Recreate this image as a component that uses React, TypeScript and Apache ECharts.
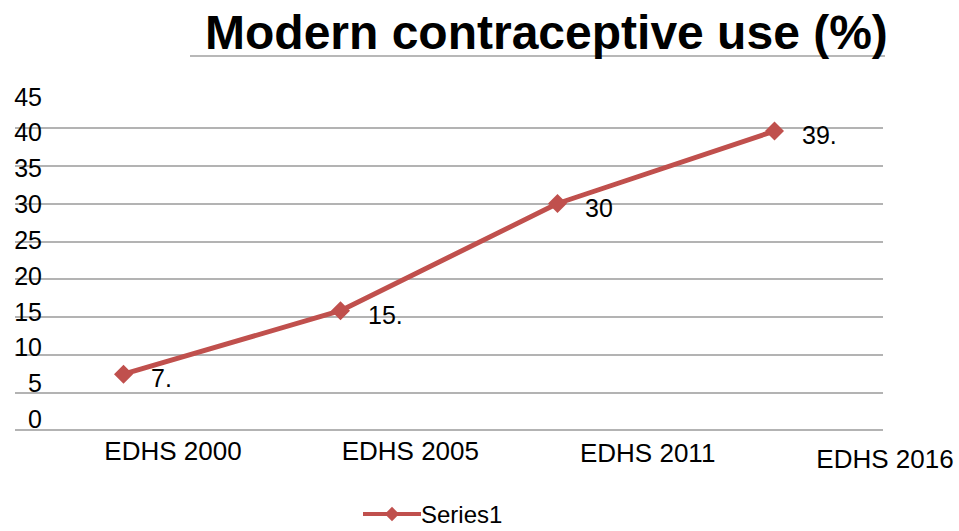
import React, { useEffect, useRef } from "react";
import * as echarts from "echarts";

const categories = ["EDHS 2000", "EDHS 2005", "EDHS 2011", "EDHS 2016"];
const values = [7.4, 15.8, 30, 39.6];
const pointLabels = ["7.", "15.", "30", "39."];
const yTicks = [0, 5, 10, 15, 20, 25, 30, 35, 40, 45];
const categoryLabelShift = [0, 0, 2, 8];
const seriesName = "Series1";
const titleText = "Modern contraceptive use (%)";

const FONT = "'Liberation Sans', Arial, sans-serif";
const RED = "#C0504D";

export default function App() {
  const ref = useRef<HTMLDivElement>(null);
  useEffect(() => {
    if (!ref.current) return;
    const chart = echarts.init(ref.current, undefined, { renderer: "svg" });
    chart.setOption({
      animation: false,
      backgroundColor: "#ffffff",
      textStyle: { fontFamily: FONT },
      title: {
        text: titleText,
        left: 200,
        top: 3,
        textStyle: { fontSize: 48, fontWeight: "bold", color: "#000", fontFamily: FONT },
      },
      graphic: [
        {
          type: "line",
          shape: { x1: 190, y1: 56, x2: 885, y2: 56 },
          style: { stroke: "#a0a0a0", lineWidth: 1.5 },
        },
      ],
      legend: {
        data: [seriesName],
        left: 361,
        top: 502,
        padding: 0,
        itemWidth: 58,
        itemHeight: 18,
        itemGap: 0,
        lineStyle: { width: 4 },
        textStyle: { fontSize: 24, color: "#000", fontFamily: FONT, padding: [0, 0, 0, -5] },
      },
      grid: [
        { left: 15, right: 76, top: 128, bottom: 101 },
        { left: 173, right: 74, top: 96.5, bottom: 112 },
      ],
      xAxis: [
        {
          type: "category",
          gridIndex: 0,
          data: categories,
          boundaryGap: true,
          axisLine: { show: false },
          axisTick: { show: false },
          axisLabel: { show: false },
          splitLine: { show: false },
        },
        {
          type: "category",
          gridIndex: 1,
          data: categories.map((c, i) => ({
            value: c,
            textStyle: { padding: [categoryLabelShift[i], 0, 0, 0] },
          })),
          boundaryGap: false,
          axisLine: { show: false },
          axisTick: { show: false },
          splitLine: { show: false },
          axisLabel: {
            interval: 0,
            margin: 19,
            verticalAlign: "top",
            fontSize: 26,
            color: "#000",
            fontFamily: FONT,
          },
        },
      ],
      yAxis: [
        {
          type: "value",
          gridIndex: 0,
          min: 0,
          max: 40,
          interval: 5,
          axisLine: { show: false },
          axisTick: { show: false },
          axisLabel: { show: false },
          splitLine: { show: true, lineStyle: { color: "#9a9a9a", width: 1.5 } },
        },
        {
          type: "value",
          gridIndex: 1,
          min: yTicks[0],
          max: yTicks[yTicks.length - 1],
          interval: yTicks[1] - yTicks[0],
          offset: 131,
          axisLine: { show: false },
          axisTick: { show: false },
          splitLine: { show: false },
          axisLabel: { margin: 0, fontSize: 25, color: "#000", fontFamily: FONT },
        },
      ],
      series: [
        {
          name: seriesName,
          type: "line",
          xAxisIndex: 0,
          yAxisIndex: 0,
          data: values,
          symbol: "diamond",
          symbolSize: 19,
          lineStyle: { color: RED, width: 5 },
          itemStyle: { color: RED },
          label: {
            show: true,
            position: "right",
            distance: 18,
            offset: [0, 4],
            fontSize: 25,
            color: "#000",
            fontFamily: FONT,
            formatter: (p: any) => pointLabels[p.dataIndex],
          },
        },
      ],
    });
    return () => chart.dispose();
  }, []);
  return (
    <div
      ref={ref}
      style={{ position: "fixed", left: 0, top: 0, width: 959, height: 531 }}
    />
  );
}
